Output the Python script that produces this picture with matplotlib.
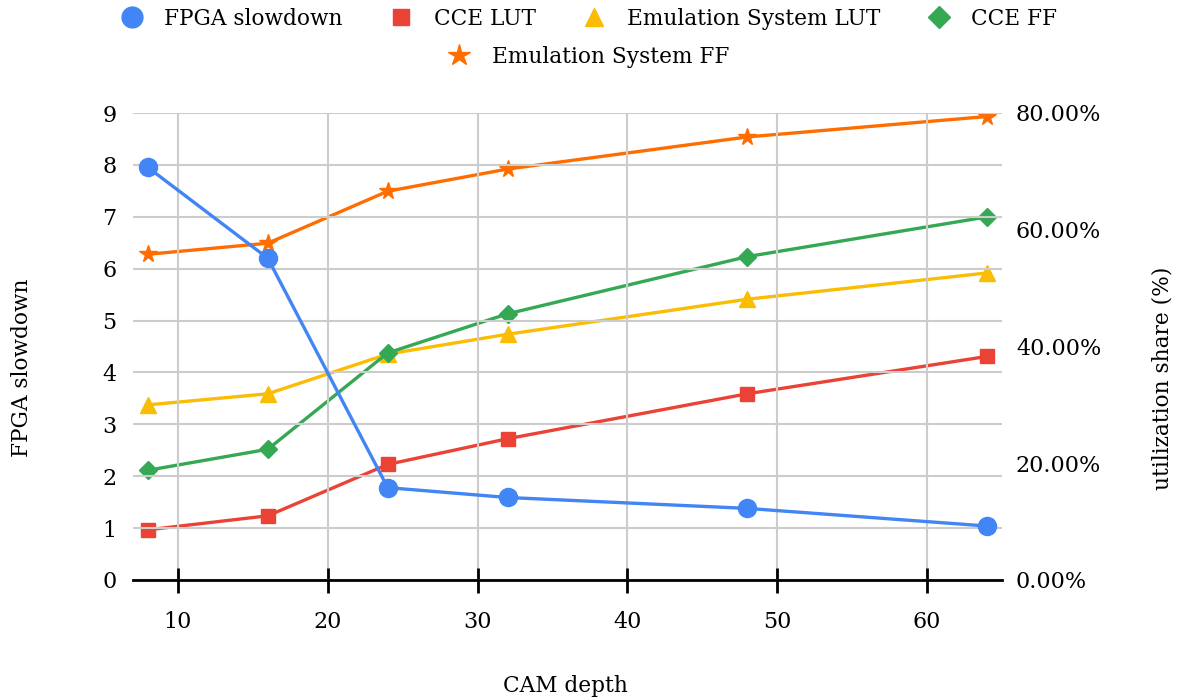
import matplotlib
matplotlib.use("Agg")
import matplotlib.pyplot as plt
from matplotlib.lines import Line2D
from matplotlib.ticker import FuncFormatter, MultipleLocator

plt.rcParams["font.family"] = ["DejaVu Serif"]

# CAM depth vs. slowdown and resource utilization
cam_depth = [8, 16, 24, 32, 48, 64]
fpga_slowdown = [7.95, 6.2, 1.78, 1.59, 1.38, 1.04]
cce_lut = [0.086, 0.110, 0.198, 0.242, 0.319, 0.383]
emu_lut = [0.300, 0.319, 0.387, 0.421, 0.481, 0.526]
cce_ff = [0.188, 0.224, 0.389, 0.456, 0.554, 0.622]
emu_ff = [0.558, 0.577, 0.666, 0.704, 0.759, 0.794]

BLUE, RED, YELLOW, GREEN, ORANGE = "#4285f4", "#ea4335", "#fbbc04", "#34a853", "#ff6d01"
FS = 15.6
TICK_FS = 16

fig = plt.figure(figsize=(11.78, 7.0), dpi=100)
ax = fig.add_axes([133 / 1178, 1 - 580 / 700, (1002 - 133) / 1178, (580 - 113) / 700])
ax2 = ax.twinx()

lw = 2.4
ax.plot(cam_depth, fpga_slowdown, color=BLUE, lw=lw, marker="o", ms=13, zorder=5)
ax2.plot(cam_depth, cce_lut, color=RED, lw=lw, marker="s", ms=10)
ax2.plot(cam_depth, emu_lut, color=YELLOW, lw=lw, marker="^", ms=11)
ax2.plot(cam_depth, cce_ff, color=GREEN, lw=lw, marker="D", ms=9)
ax2.plot(cam_depth, emu_ff, color=ORANGE, lw=lw, marker="*", ms=13)
ax.set_zorder(ax2.get_zorder() + 1)
ax.patch.set_visible(False)

ax.set_xlim(7, 65)
ax.set_ylim(0, 9)
ax2.set_ylim(0, 0.8)
ax.xaxis.set_major_locator(MultipleLocator(10))
ax.yaxis.set_major_locator(MultipleLocator(1))
ax2.yaxis.set_major_locator(MultipleLocator(0.2))
ax2.yaxis.set_major_formatter(FuncFormatter(lambda v, _: f"{v * 100:.2f}%"))

ax.grid(True, color="#cccccc", lw=1.5)
ax.set_axisbelow(True)
for a in (ax, ax2):
    for side in ("top", "left", "right", "bottom"):
        a.spines[side].set_visible(False)
ax.axhline(0, color="black", lw=2, zorder=3, clip_on=False)

ax.tick_params(axis="x", direction="inout", length=18, width=2, color="black",
               labelsize=TICK_FS, pad=13)
ax.tick_params(axis="y", length=0, labelsize=TICK_FS, pad=12)
ax2.tick_params(axis="y", length=0, labelsize=TICK_FS, pad=10)
ax2.tick_params(axis="x", length=0)

fig.text(22 / 1178, 1 - 368 / 700, "FPGA slowdown", rotation=90, ha="center",
         va="center", fontsize=FS)
fig.text(1163 / 1178, 1 - 378 / 700, "utilization share (%)", rotation=90,
         ha="center", va="center", fontsize=FS)
fig.text(565 / 1178, 1 - 686 / 700, "CAM depth", ha="center", va="center",
         fontsize=FS)

def handle(color, marker, ms):
    return Line2D([], [], color=color, marker=marker, ms=ms, lw=0)

row1 = [handle(BLUE, "o", 15), handle(RED, "s", 11), handle(YELLOW, "^", 13),
        handle(GREEN, "D", 11)]
row1_labels = ["FPGA slowdown", "CCE LUT", "Emulation System LUT", "CCE FF"]
fig.legend(row1, row1_labels, loc="center", bbox_to_anchor=(0.5, 1 - 19 / 700),
           ncol=4, frameon=False, fontsize=FS, handlelength=1.0,
           handletextpad=1.0, columnspacing=2.2)
fig.legend([handle(ORANGE, "*", 16)], ["Emulation System FF"], loc="center",
           bbox_to_anchor=(0.5, 1 - 57 / 700), frameon=False, fontsize=FS,
           handlelength=1.0, handletextpad=1.0)

fig.savefig("out.png", dpi=100)
